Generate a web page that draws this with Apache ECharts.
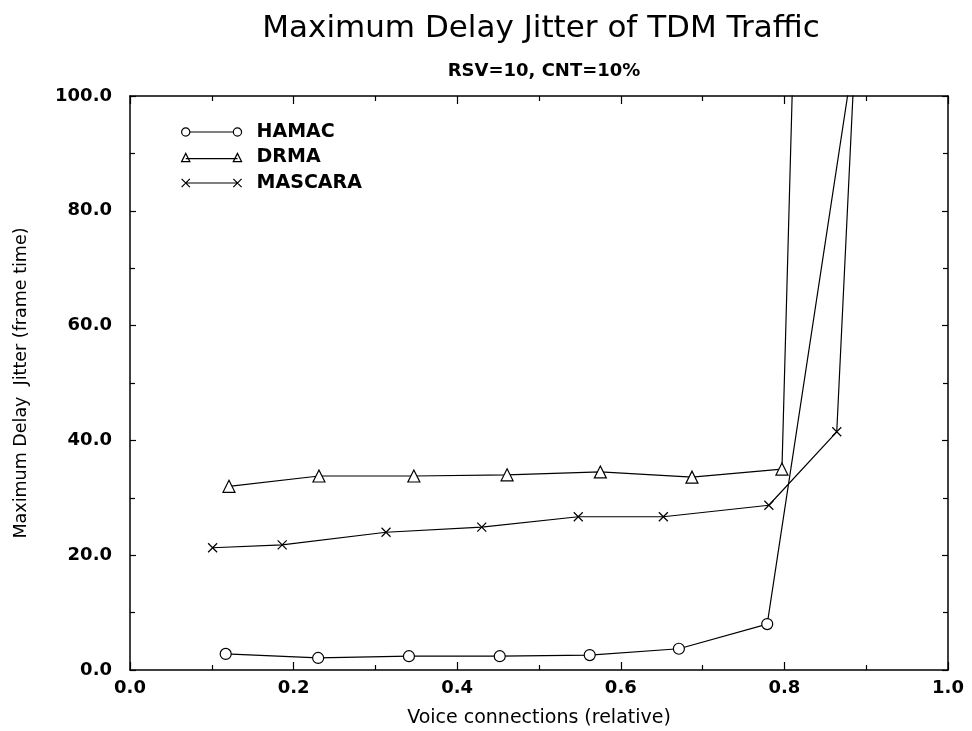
<!DOCTYPE html>
<html>
<head>
<meta charset="utf-8">
<script src="https://cdn.jsdelivr.net/npm/echarts@6/dist/echarts.min.js"></script>
<style>
  html, body { margin: 0; padding: 0; background: #fff; }
  #chart { width: 972px; height: 731px; }
</style>
</head>
<body>
<div id="chart"></div>
<script>
const hamacX = [0.117, 0.230, 0.341, 0.452, 0.562, 0.671, 0.779, 0.89]
const hamacY = [2.8, 2.1, 2.4, 2.4, 2.6, 3.7, 8.0, 112]
const drmaX = [0.121, 0.231, 0.347, 0.461, 0.575, 0.687, 0.797, 0.82]
const drmaY = [32.0, 33.8, 33.8, 34.0, 34.5, 33.6, 35.0, 155]
const mascaraX = [0.101, 0.186, 0.313, 0.430, 0.548, 0.652, 0.781, 0.864, 0.89]
const mascaraY = [21.3, 21.8, 24.0, 24.9, 26.7, 26.7, 28.7, 41.5, 118.5]

const font = 'DejaVu Sans, Verdana, sans-serif'
const pairs = (xs, ys) => xs.map((x, i) => [x, ys[i]])

// legend icons: line with the marker at both ends
const iconCircle = 'path://M1,5a4,4 0 1,0 8,0a4,4 0 1,0 -8,0M9,5L51,5M51,5a4,4 0 1,0 8,0a4,4 0 1,0 -8,0'
const iconTriangle = 'path://M1,9L5,1L9,9ZM5,6L55,6M51,9L55,1L59,9Z'
const iconCross = 'path://M1,1L9,9M9,1L1,9M5,5L55,5M51,1L59,9M59,1L51,9'
const crossSymbol = 'path://M0,0L10,10M10,0L0,10'

const chart = echarts.init(document.getElementById('chart'))

const lineSeries = (name, data, symbol, size) => ({
  name,
  type: 'line',
  data,
  symbol,
  symbolSize: size,
  symbolKeepAspect: true,
  clip: true,
  lineStyle: { color: '#000', width: 1.2 },
  itemStyle: { color: '#fff', borderColor: '#000', borderWidth: 1.2 },
  emphasis: { disabled: true },
  z: 3
})

const tick = { inside: true, length: 8, lineStyle: { color: '#000', width: 1.2 } }
const minor = { show: true, splitNumber: 2, length: 5, lineStyle: { color: '#000', width: 1.2 } }
const axisLine = { show: true, onZero: false, lineStyle: { color: '#000', width: 1.5 } }

chart.setOption({
  backgroundColor: '#fff',
  animation: false,
  title: [
    {
      text: 'Maximum Delay Jitter of TDM Traffic',
      left: 536,
      top: 8,
      textAlign: 'center',
      textStyle: { fontFamily: font, fontSize: 31, fontWeight: 'normal', color: '#000' }
    },
    {
      text: 'RSV=10, CNT=10%',
      left: 539,
      top: 57,
      textAlign: 'center',
      textStyle: { fontFamily: font, fontSize: 18, fontWeight: 'bold', color: '#000' }
    }
  ],
  legend: {
    orient: 'vertical',
    left: 176,
    top: 117,
    itemWidth: 60,
    itemHeight: 10,
    itemGap: 5.5,
    textStyle: { fontFamily: font, fontSize: 19, fontWeight: 'bold', lineHeight: 20, color: '#000', padding: [0, 0, 0, 10] },
    itemStyle: { color: '#fff', borderColor: '#000', borderWidth: 1.2 },
    data: [
      { name: 'HAMAC', icon: iconCircle },
      { name: 'DRMA', icon: iconTriangle },
      { name: 'MASCARA', icon: iconCross }
    ]
  },
  grid: { left: 130, right: 24, top: 96, bottom: 61, outerBoundsMode: 'none' },
  xAxis: [
    {
      type: 'value',
      min: 0,
      max: 1,
      interval: 0.2,
      name: 'Voice connections (relative)',
      nameLocation: 'middle',
      nameGap: 39,
      nameTextStyle: { fontFamily: font, fontSize: 19, color: '#000' },
      axisLine,
      axisTick: tick,
      minorTick: minor,
      splitLine: { show: false },
      axisLabel: {
        margin: 9,
        fontFamily: font,
        fontSize: 18,
        fontWeight: 'bold',
        color: '#000',
        formatter: v => v.toFixed(1)
      }
    },
    {
      type: 'value',
      position: 'top',
      min: 0,
      max: 1,
      interval: 0.2,
      axisLine,
      axisTick: tick,
      minorTick: minor,
      splitLine: { show: false },
      axisLabel: { show: false }
    }
  ],
  yAxis: [
    {
      type: 'value',
      min: 0,
      max: 100,
      interval: 20,
      name: 'Maximum Delay  Jitter (frame time)',
      nameLocation: 'middle',
      nameGap: 100,
      nameTextStyle: { fontFamily: font, fontSize: 17.5, color: '#000' },
      axisLine,
      axisTick: { ...tick, length: 6 },
      minorTick: minor,
      splitLine: { show: false },
      axisLabel: {
        margin: 18,
        fontFamily: font,
        fontSize: 18,
        fontWeight: 'bold',
        color: '#000',
        formatter: v => v.toFixed(1)
      }
    },
    {
      type: 'value',
      position: 'right',
      min: 0,
      max: 100,
      interval: 20,
      axisLine,
      axisTick: { ...tick, length: 6 },
      minorTick: minor,
      splitLine: { show: false },
      axisLabel: { show: false }
    }
  ],
  series: [
    lineSeries('HAMAC', pairs(hamacX, hamacY), 'circle', 11),
    lineSeries('DRMA', pairs(drmaX, drmaY), 'triangle', 12),
    lineSeries('MASCARA', pairs(mascaraX, mascaraY), crossSymbol, 9)
  ]
})
</script>
</body>
</html>
